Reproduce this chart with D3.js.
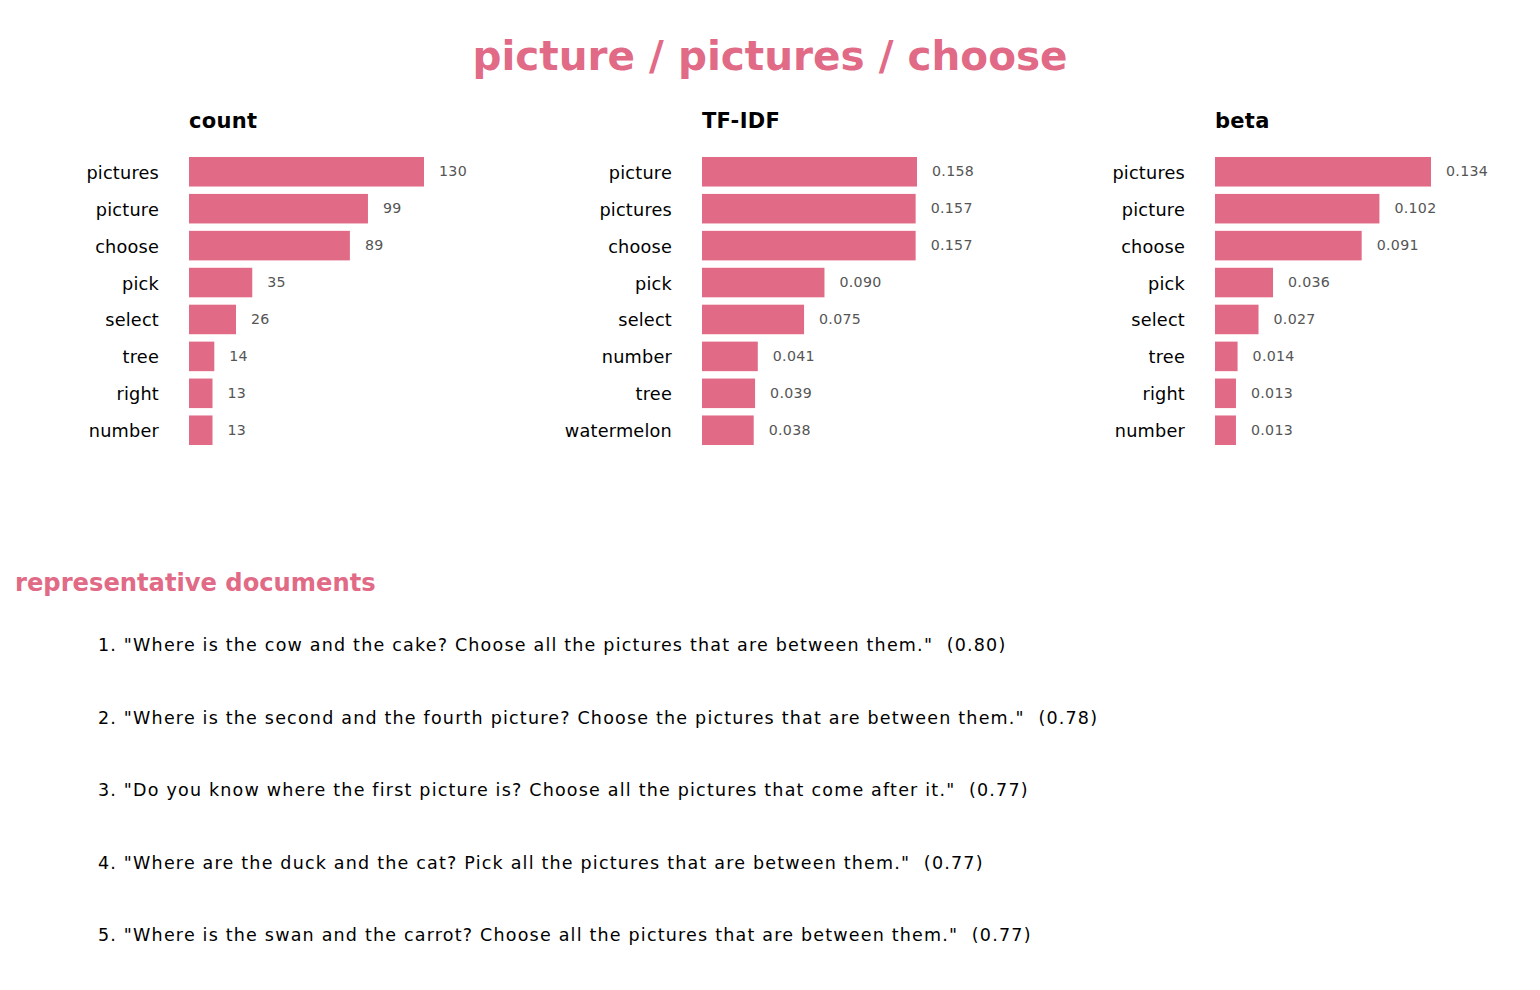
<!DOCTYPE html>
<html><head><meta charset="utf-8">
<script src="https://cdn.jsdelivr.net/npm/d3@7"></script>
<style>
html,body{margin:0;padding:0;background:#fff;}
text{font-family:"DejaVu Sans",sans-serif;}
</style></head>
<body>
<svg id="chart" width="1540" height="990"></svg>
<script>
const title = "picture / pictures / choose";
const panelTitles = ["count", "TF-IDF", "beta"];
const countTerms = ["pictures","picture","choose","pick","select","tree","right","number"];
const countValues = [130, 99, 89, 35, 26, 14, 13, 13];
const countLabels = ["130","99","89","35","26","14","13","13"];
const tfidfTerms = ["picture","pictures","choose","pick","select","number","tree","watermelon"];
const tfidfValues = [0.158, 0.157, 0.157, 0.090, 0.075, 0.041, 0.039, 0.038];
const tfidfLabels = ["0.158","0.157","0.157","0.090","0.075","0.041","0.039","0.038"];
const betaTerms = ["pictures","picture","choose","pick","select","tree","right","number"];
const betaValues = [0.134, 0.102, 0.091, 0.036, 0.027, 0.014, 0.013, 0.013];
const betaLabels = ["0.134","0.102","0.091","0.036","0.027","0.014","0.013","0.013"];
const docsHeading = "representative documents";
const docs = [
  '1. "Where is the cow and the cake? Choose all the pictures that are between them."  (0.80)',
  '2. "Where is the second and the fourth picture? Choose the pictures that are between them."  (0.78)',
  '3. "Do you know where the first picture is? Choose all the pictures that come after it."  (0.77)',
  '4. "Where are the duck and the cat? Pick all the pictures that are between them."  (0.77)',
  '5. "Where is the swan and the carrot? Choose all the pictures that are between them."  (0.77)'
];

const PINK = "#e16a86";
const svg = d3.select("#chart");

svg.append("text").attr("x", 770).attr("y", 70).attr("text-anchor","middle")
  .attr("font-size", 40.5).attr("font-weight","bold").attr("fill", PINK).text(title);

const panels = [
  {terms: countTerms, values: countValues, labels: countLabels, x0: 189, dmaxFactor: 300/235},
  {terms: tfidfTerms, values: tfidfValues, labels: tfidfLabels, x0: 702, dmaxFactor: 300/215},
  {terms: betaTerms, values: betaValues, labels: betaLabels, x0: 1215, dmaxFactor: 300/216}
];

panels.forEach((p, k) => {
  const g = svg.append("g").attr("transform", `translate(${p.x0},0)`);
  const x = d3.scaleLinear().domain([0, d3.max(p.values) * p.dmaxFactor]).range([0, 300]);
  const y = d3.scaleBand().domain(p.terms).range([153.3, 448.7]).paddingInner(0.2).paddingOuter(0.1);
  g.append("text").attr("x", 0).attr("y", 128).attr("font-size", 21).attr("font-weight","bold")
    .attr("fill","#000").style("letter-spacing","0.3px").text(panelTitles[k]);
  const rows = p.terms.map((t, i) => ({t, v: p.values[i], l: p.labels[i]}));
  g.selectAll("rect").data(rows).join("rect")
    .attr("x", 0).attr("y", d => y(d.t)).attr("width", d => x(d.v)).attr("height", y.bandwidth())
    .attr("fill", PINK);
  g.selectAll("text.cat").data(rows).join("text").attr("class","cat")
    .attr("x", -30).attr("y", d => y(d.t) + y.bandwidth()/2 + 7)
    .attr("text-anchor","end").attr("font-size", 17.7).attr("fill","#000")
    .style("letter-spacing","0.2px").text(d => d.t);
  g.selectAll("text.val").data(rows).join("text").attr("class","val")
    .attr("x", d => x(d.v) + 15).attr("y", d => y(d.t) + y.bandwidth()/2 + 4.5)
    .attr("font-size", 14.2).attr("fill","#555").style("letter-spacing","0.3px").text(d => d.l);
});

svg.append("text").attr("x", 15).attr("y", 591).attr("font-size", 24.2).attr("font-weight","bold")
  .attr("fill", PINK).text(docsHeading);

const yDoc = d3.scalePoint().domain(d3.range(docs.length)).range([651, 941]);
svg.selectAll("text.doc").data(docs).join("text").attr("class","doc")
  .attr("x", 98).attr("y", (d, i) => yDoc(i)).attr("font-size", 17.5).attr("fill","#000")
  .style("white-space","pre").style("letter-spacing","1.2px").text(d => d);
</script>
</body></html>
